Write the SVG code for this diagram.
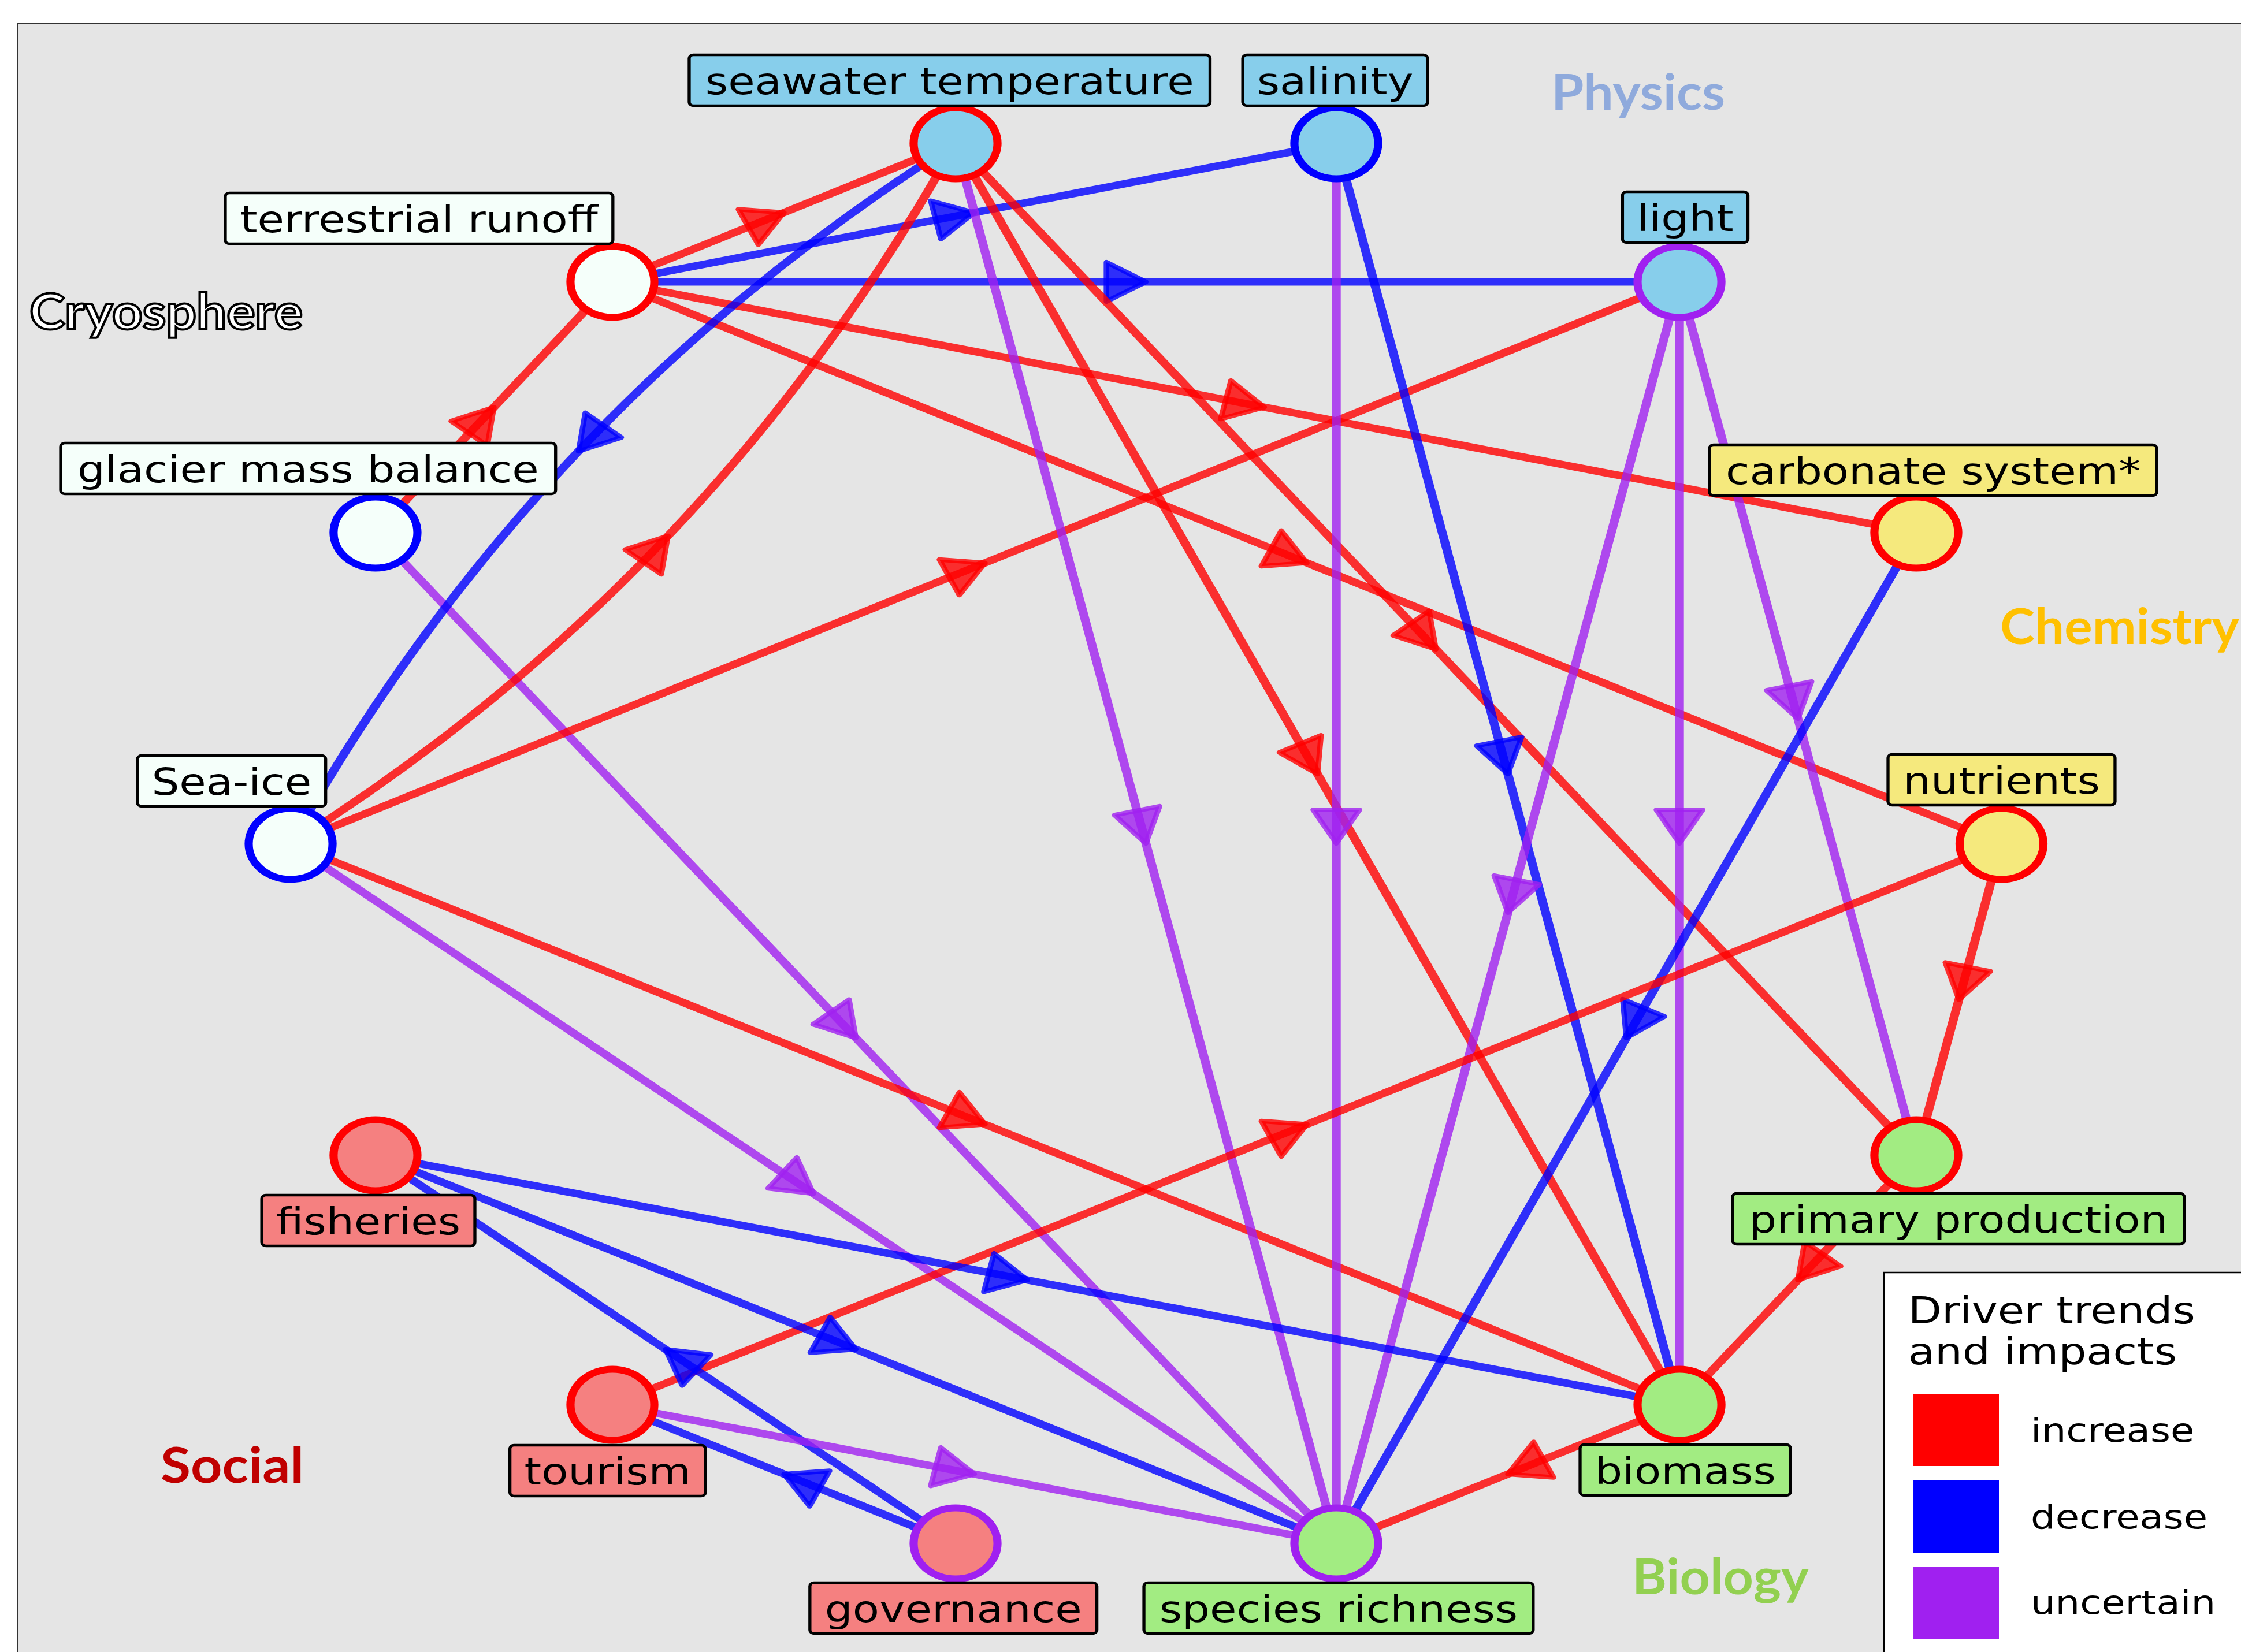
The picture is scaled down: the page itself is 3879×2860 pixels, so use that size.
<svg xmlns="http://www.w3.org/2000/svg" width="3879" height="2860" viewBox="0 0 3879 2860">
<style>
.e{fill:none;stroke-width:13;stroke-opacity:0.8}
.er{stroke:#FF0000;marker-mid:url(#ar)}
.eb{stroke:#0000FF;marker-mid:url(#ab)}
.ep{stroke:#A020F0;marker-mid:url(#ap)}
.nd{stroke-width:12}
.bx{stroke:#000;stroke-width:4.5}
.tx{font-family:"DejaVu Sans",sans-serif;font-size:64px;fill:#000;text-anchor:middle}
.lt{font-family:"DejaVu Sans",sans-serif;font-size:64px;fill:#000}
.ll{font-family:"DejaVu Sans",sans-serif;font-size:57px;fill:#000}
.phy{fill:#87CEEB}
.cry{fill:#F5FFFA}
.che{fill:#F5E97D}
.bio{fill:#A2EC82}
.soc{fill:#F58080}
.kr{stroke:#FF0000}.kb{stroke:#0000FF}.kp{stroke:#A020F0}
.reg{font-family:Lato,"Open Sans",sans-serif;font-weight:700;font-size:86px}
</style>
<defs>
<marker id="ar" markerUnits="userSpaceOnUse" markerWidth="10" markerHeight="10" refX="0" refY="0" orient="auto" overflow="visible"><path d="M0,0 L-58,-34 L-58,34 Z" fill="#FF0000" fill-opacity="0.8" stroke="#FF0000" stroke-opacity="0.8" stroke-width="8" stroke-linejoin="round"/></marker>
<marker id="ab" markerUnits="userSpaceOnUse" markerWidth="10" markerHeight="10" refX="0" refY="0" orient="auto" overflow="visible"><path d="M0,0 L-58,-34 L-58,34 Z" fill="#0000FF" fill-opacity="0.8" stroke="#0000FF" stroke-opacity="0.8" stroke-width="8" stroke-linejoin="round"/></marker>
<marker id="ap" markerUnits="userSpaceOnUse" markerWidth="10" markerHeight="10" refX="0" refY="0" orient="auto" overflow="visible"><path d="M0,0 L-58,-34 L-58,34 Z" fill="#A020F0" fill-opacity="0.8" stroke="#A020F0" stroke-opacity="0.8" stroke-width="8" stroke-linejoin="round"/></marker>
</defs>
<rect width="3879" height="2860" fill="#FFFFFF"/>
<rect x="30.5" y="40.5" width="4000" height="3000" fill="#E5E5E5" stroke="#333333" stroke-width="2"/>
<g transform="scale(1.18,1)">
<g id="connectors">
<path class="e er" d="M898.3,488 L1150,368 L1401.7,248"/>
<path class="e eb" d="M898.3,488 L1429.25,368 L1960.2,248"/>
<path class="e eb" d="M898.3,488 L1680.95,488 L2463.6,488"/>
<path class="e er" d="M898.3,488 L1854.65,705 L2811,922"/>
<path class="e er" d="M898.3,488 L1917.15,974.5 L2936,1461"/>
<path class="e er" d="M550.8,922 L724.55,705 L898.3,488"/>
<path class="e ep" d="M550.8,922 L1255.5,1797 L1960.2,2672"/>
<path class="e eb" d="M1401.7,248 Q1092.4,478.05 848.6,781.3 Q604.7,1084.55 426.3,1461"/>
<path class="e er" d="M426.3,1461 Q736,1231 979.9,927.7 Q1223.7,624.5 1401.7,248"/>
<path class="e er" d="M426.3,1461 L1444.95,974.5 L2463.6,488"/>
<path class="e er" d="M426.3,1461 L1444.95,1946.5 L2463.6,2432"/>
<path class="e ep" d="M426.3,1461 L1193.25,2066.5 L1960.2,2672"/>
<path class="e ep" d="M1401.7,248 L1680.95,1460 L1960.2,2672"/>
<path class="e er" d="M1401.7,248 L1932.65,1340 L2463.6,2432"/>
<path class="e er" d="M1401.7,248 L2106.35,1124 L2811,2000"/>
<path class="e ep" d="M1960.2,248 L1960.2,1460 L1960.2,2672"/>
<path class="e eb" d="M1960.2,248 L2211.9,1340 L2463.6,2432"/>
<path class="e ep" d="M2463.6,488 L2211.9,1580 L1960.2,2672"/>
<path class="e ep" d="M2463.6,488 L2463.6,1460 L2463.6,2432"/>
<path class="e ep" d="M2463.6,488 L2637.3,1244 L2811,2000"/>
<path class="e eb" d="M2811,922 L2385.6,1797 L1960.2,2672"/>
<path class="e er" d="M2936,1461 L2873.5,1730.5 L2811,2000"/>
<path class="e er" d="M898.3,2432 L1917.15,1946.5 L2936,1461"/>
<path class="e er" d="M2811,2000 L2637.3,2216 L2463.6,2432"/>
<path class="e er" d="M2463.6,2432 L2211.9,2552 L1960.2,2672"/>
<path class="e eb" d="M550.8,2000 L1507.2,2216 L2463.6,2432"/>
<path class="e eb" d="M550.8,2000 L1255.5,2336 L1960.2,2672"/>
<path class="e eb" d="M1401.7,2672 L976.25,2336 L550.8,2000"/>
<path class="e eb" d="M1401.7,2672 L1150,2552 L898.3,2432"/>
<path class="e ep" d="M898.3,2432 L1429.25,2552 L1960.2,2672"/>
</g>
<g id="seawater-temperature">
<circle class="nd phy kr" cx="1401.7" cy="248" r="61.5"/>
<rect class="bx phy" x="1011" y="95" width="764" height="88" rx="6"/>
<text class="tx" x="1393" y="163">seawater temperature</text>
</g>
<g id="salinity">
<circle class="nd phy kb" cx="1960.2" cy="248" r="61.5"/>
<rect class="bx phy" x="1823" y="95" width="271" height="88" rx="6"/>
<text class="tx" x="1958.5" y="163">salinity</text>
</g>
<g id="light">
<circle class="nd phy kp" cx="2463.6" cy="488" r="61.5"/>
<rect class="bx phy" x="2380" y="332" width="184" height="88" rx="6"/>
<text class="tx" x="2472" y="400">light</text>
</g>
<g id="terrestrial-runoff">
<circle class="nd cry kr" cx="898.3" cy="488" r="61.5"/>
<rect class="bx cry" x="330.5" y="334" width="568.5" height="88" rx="6"/>
<text class="tx" x="614.75" y="402">terrestrial runoff</text>
</g>
<g id="glacier-mass-balance">
<circle class="nd cry kb" cx="550.8" cy="922" r="61.5"/>
<rect class="bx cry" x="89" y="767" width="726" height="88" rx="6"/>
<text class="tx" x="452" y="835">glacier mass balance</text>
</g>
<g id="carbonate-system">
<circle class="nd che kr" cx="2811" cy="922" r="61.5"/>
<rect class="bx che" x="2507.6" y="770" width="656" height="88" rx="6"/>
<text class="tx" x="2835.6" y="838">carbonate system*</text>
</g>
<g id="sea-ice">
<circle class="nd cry kb" cx="426.3" cy="1461" r="61.5"/>
<rect class="bx cry" x="201.7" y="1308" width="276" height="88" rx="6"/>
<text class="tx" x="339.7" y="1376">Sea-ice</text>
</g>
<g id="nutrients">
<circle class="nd che kr" cx="2936" cy="1461" r="61.5"/>
<rect class="bx che" x="2769.5" y="1306" width="333" height="88" rx="6"/>
<text class="tx" x="2936" y="1374">nutrients</text>
</g>
<g id="fisheries">
<circle class="nd soc kr" cx="550.8" cy="2000" r="61.5"/>
<rect class="bx soc" x="384" y="2069" width="312.6" height="88" rx="6"/>
<text class="tx" x="540.3" y="2137">fisheries</text>
</g>
<g id="primary-production">
<circle class="nd bio kr" cx="2811" cy="2000" r="61.5"/>
<rect class="bx bio" x="2541.5" y="2066" width="662.5" height="88" rx="6"/>
<text class="tx" x="2872.75" y="2134">primary production</text>
</g>
<g id="tourism">
<circle class="nd soc kr" cx="898.3" cy="2432" r="61.5"/>
<rect class="bx soc" x="748" y="2502" width="286.7" height="88" rx="6"/>
<text class="tx" x="891.4" y="2570">tourism</text>
</g>
<g id="biomass">
<circle class="nd bio kr" cx="2463.6" cy="2432" r="61.5"/>
<rect class="bx bio" x="2317.8" y="2501" width="308.5" height="88" rx="6"/>
<text class="tx" x="2472" y="2569">biomass</text>
</g>
<g id="governance">
<circle class="nd soc kp" cx="1401.7" cy="2672" r="61.5"/>
<rect class="bx soc" x="1188" y="2740" width="421" height="88" rx="6"/>
<text class="tx" x="1398.5" y="2808">governance</text>
</g>
<g id="species-richness">
<circle class="nd bio kp" cx="1960.2" cy="2672" r="61.5"/>
<rect class="bx bio" x="1678" y="2740" width="571" height="88" rx="6"/>
<text class="tx" x="1963.5" y="2808">species richness</text>
</g>
<g id="legend">
<rect x="2763.6" y="2203" width="800" height="800" fill="#FFFFFF" stroke="#000000" stroke-width="2.5"/>
<text class="lt" x="2799" y="2291">Driver trends</text>
<text class="lt" x="2799" y="2362">and impacts</text>
<rect x="2806.8" y="2413" width="125.4" height="125" fill="#FF0000"/>
<rect x="2806.8" y="2563" width="125.4" height="125" fill="#0000FF"/>
<rect x="2806.8" y="2712" width="125.4" height="125" fill="#A020F0"/>
<text class="ll" x="2978.8" y="2496">increase</text>
<text class="ll" x="2978.8" y="2646">decrease</text>
<text class="ll" x="2978.8" y="2794">uncertain</text>
</g>
</g>
<g id="region-labels">
<text class="reg" x="2685" y="190" fill="#8FAADC" textLength="301" lengthAdjust="spacingAndGlyphs">Physics</text>
<text class="reg" x="3462" y="1115" fill="#FFC000" textLength="414" lengthAdjust="spacingAndGlyphs">Chemistry</text>
<text class="reg" x="2825" y="2760" fill="#92D050" textLength="306" lengthAdjust="spacingAndGlyphs">Biology</text>
<text class="reg" x="278" y="2567" fill="#C00000" textLength="248" lengthAdjust="spacingAndGlyphs">Social</text>
<text class="reg" x="51" y="570" fill="#FFFFFF" stroke="#000000" stroke-width="4" font-size="88" textLength="473" lengthAdjust="spacingAndGlyphs">Cryosphere</text>
</g>
</svg>
